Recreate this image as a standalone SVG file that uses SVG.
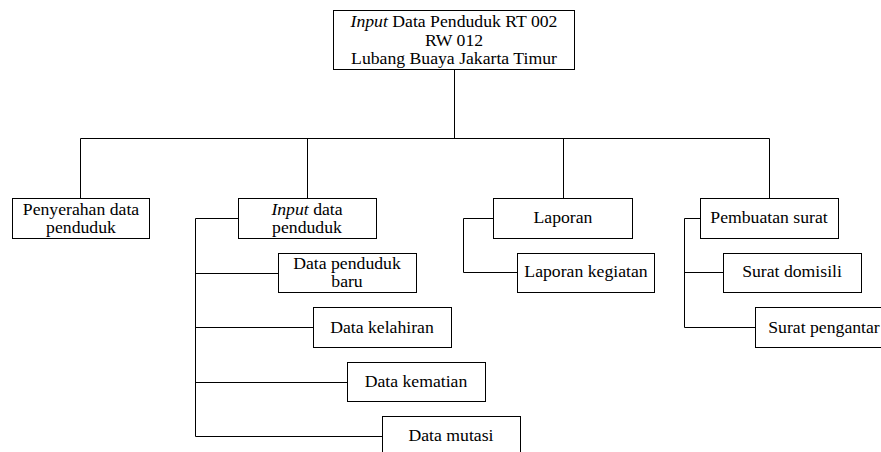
<svg xmlns="http://www.w3.org/2000/svg" width="881" height="452" viewBox="0 0 881 452">
<style>
.box{fill:#fff;stroke:#000;stroke-width:1}
.ln{fill:none;stroke:#000;stroke-width:1}
text{font-family:"Liberation Serif","Times New Roman",serif;font-size:17.7px;fill:#000;text-anchor:middle}
.i{font-style:italic}
</style>
<rect width="881" height="452" fill="#fff"/>
<g id="connectors">
<path class="ln" d="M454.5 69.5V138.5M80.5 138.5H769.5M80.5 138.5V198.5M307.5 138.5V198.5M563.5 138.5V198.5M769.5 138.5V198.5"/>
<path class="ln" d="M238.5 218.5H195.5V436.5H382.5M195.5 273.5H278.5M195.5 327.5H313.5M195.5 382.5H347.5"/>
<path class="ln" d="M493.5 218.5H463.5V272.5H517.5"/>
<path class="ln" d="M700.5 218.5H684.5V327.5H755.5M684.5 272.5H723.5"/>
</g>
<g id="root">
<rect class="box" x="333.5" y="10.5" width="241" height="59"/>
<text x="454" y="27"><tspan class="i">Input</tspan> Data Penduduk RT 002</text>
<text x="454" y="45.5">RW 012</text>
<text x="454" y="64">Lubang Buaya Jakarta Timur</text>
</g>
<g id="penyerahan">
<rect class="box" x="12.5" y="198.5" width="137" height="40"/>
<text x="81" y="215">Penyerahan data</text>
<text x="81" y="233">penduduk</text>
</g>
<g id="input-data">
<rect class="box" x="238.5" y="198.5" width="138" height="40"/>
<text x="307" y="215"><tspan class="i">Input</tspan> data</text>
<text x="307" y="233">penduduk</text>
</g>
<g id="data-penduduk-baru">
<rect class="box" x="278.5" y="253.5" width="138" height="39"/>
<text x="347" y="269">Data penduduk</text>
<text x="347" y="287">baru</text>
</g>
<g id="data-kelahiran">
<rect class="box" x="313.5" y="307.5" width="138" height="40"/>
<text x="382" y="333">Data kelahiran</text>
</g>
<g id="data-kematian">
<rect class="box" x="347.5" y="362.5" width="138" height="39"/>
<text x="416" y="387">Data kematian</text>
</g>
<g id="data-mutasi">
<rect class="box" x="382.5" y="416.5" width="138" height="40"/>
<text x="451" y="441">Data mutasi</text>
</g>
<g id="laporan">
<rect class="box" x="493.5" y="198.5" width="139" height="40"/>
<text x="563" y="223">Laporan</text>
</g>
<g id="laporan-kegiatan">
<rect class="box" x="517.5" y="253.5" width="137" height="39"/>
<text x="586" y="277">Laporan kegiatan</text>
</g>
<g id="pembuatan-surat">
<rect class="box" x="700.5" y="198.5" width="138" height="40"/>
<text x="769" y="223">Pembuatan surat</text>
</g>
<g id="surat-domisili">
<rect class="box" x="723.5" y="253.5" width="138" height="39"/>
<text x="792" y="277">Surat domisili</text>
</g>
<g id="surat-pengantar">
<rect class="box" x="755.5" y="307.5" width="138" height="40"/>
<text x="824" y="333">Surat pengantar</text>
</g>
</svg>
